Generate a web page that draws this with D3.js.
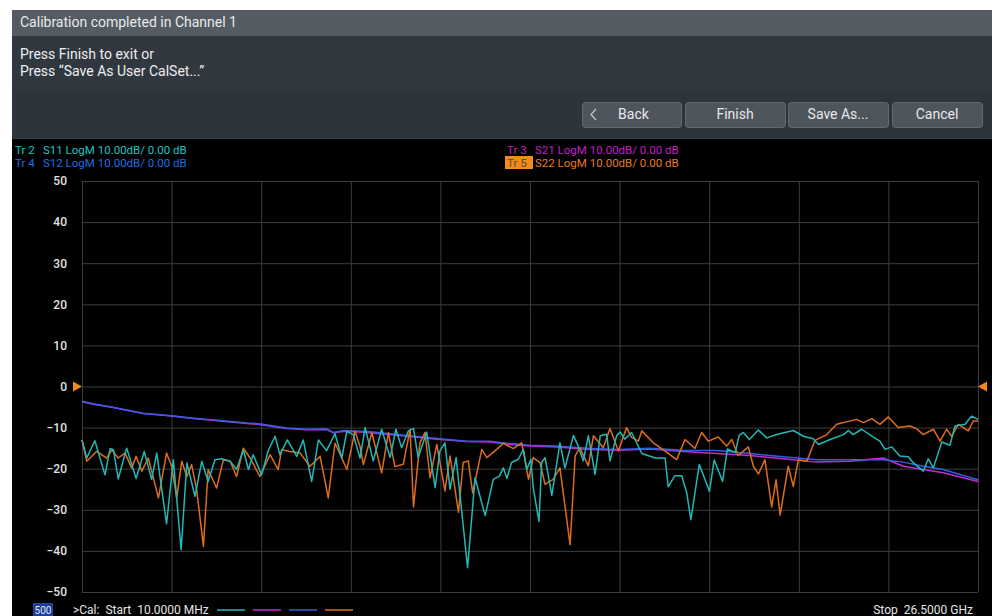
<!DOCTYPE html>
<html><head><meta charset="utf-8">
<script src="https://cdn.jsdelivr.net/npm/d3@7"></script>
<style>
body{margin:0;background:#fff;}
svg{display:block;font-family:Roboto,"Noto Sans",sans-serif;}
</style>
</head><body>
<svg id="c" width="992" height="616"></svg>
<script>
// ---------- data ----------
const yTicks = [50, 40, 30, 20, 10, 0, -10, -20, -30, -40, -50];
const startGHz = 0.01, stopGHz = 26.5, xDivisions = 10;

const s11Freq = [0.01,0.15,0.39,0.69,0.84,0.94,1.08,1.33,1.61,1.85,2.07,2.22,2.51,2.71,2.94,3.11,3.35,3.55,3.74,3.94,4.14,4.39,4.58,4.78,4.93,5.07,5.32,5.52,5.72,5.86,6.08,6.36,6.55,6.80,7.00,7.24,7.49,7.69,7.84,8.03,8.23,8.38,8.62,8.87,9.12,9.29,9.46,9.66,9.81,9.95,10.20,10.45,10.59,10.74,10.89,11.07,11.41,11.63,11.93,12.17,12.35,12.47,12.57,12.71,12.91,13.06,13.16,13.28,13.35,13.52,13.60,13.70,13.90,14.14,14.29,14.54,14.68,14.83,14.98,15.18,15.33,15.52,15.62,15.82,15.92,16.06,16.26,16.56,16.85,16.95,17.25,17.34,17.54,17.74,17.89,18.01,18.26,18.56,18.70,18.95,19.09,19.32,19.44,19.56,19.74,20.01,20.25,20.55,21.04,21.34,21.63,21.78,22.13,22.52,22.67,22.81,23.06,23.36,23.60,23.75,23.95,24.19,24.44,24.59,24.88,25.03,25.18,25.43,25.67,25.82,26.12,26.31,26.50];
const s11dB = [-13,-17.4,-13.2,-21.5,-15.1,-15.4,-22.5,-15,-22.4,-15.8,-22.6,-16.2,-33.4,-17.8,-39.7,-18.6,-26.7,-18.2,-23.1,-17.8,-17.6,-18.2,-20.2,-15.4,-20.2,-16.6,-21.5,-15.5,-12.1,-16.6,-13,-17,-13,-23.1,-13,-15.6,-11.5,-17.4,-10.9,-11.7,-17.4,-10,-18.1,-10.4,-17.3,-10.4,-14.9,-10.8,-10.2,-17.3,-11.1,-24.6,-15.7,-13.7,-25,-17.3,-44.1,-22.2,-31.4,-22.6,-21.8,-19.8,-22.4,-18.5,-17.7,-15.3,-20.2,-17.7,-24.6,-32.8,-18.5,-17.3,-26.5,-13.7,-19.8,-11.9,-14.5,-18.1,-12,-21.4,-12,-11.6,-18.1,-11.9,-11.1,-12.8,-11.2,-16.3,-17.1,-17.4,-17.4,-24.4,-21.7,-21.7,-25.9,-32.4,-19,-25.5,-17.9,-23.1,-15.2,-16.1,-11.9,-11.2,-12.9,-10.6,-12.5,-11.7,-10.7,-12.1,-12.7,-14.1,-12.9,-11.7,-10.7,-11.7,-10.4,-12.1,-13.3,-15.3,-14.7,-16.9,-17.1,-18.6,-20.6,-17.6,-19.8,-13.5,-14.3,-9.6,-9.2,-7.2,-8];

const s22Freq = [0.01,0.15,0.44,0.74,0.89,1.08,1.28,1.48,1.61,1.78,1.97,2.27,2.51,2.66,2.81,2.96,3.11,3.25,3.40,3.60,3.74,3.99,4.19,4.39,4.58,4.78,4.98,5.27,5.57,5.81,5.91,6.16,6.46,6.75,7.05,7.29,7.49,7.69,7.84,8.08,8.23,8.33,8.58,8.87,9.07,9.26,9.51,9.71,9.81,10.00,10.15,10.30,10.50,10.74,10.89,11.14,11.28,11.43,11.56,11.83,11.98,12.27,12.47,12.76,13.01,13.21,13.35,13.55,13.70,13.94,14.14,14.44,14.59,14.73,14.98,15.13,15.42,15.62,15.87,16.11,16.26,16.46,16.56,16.90,17.25,17.59,17.84,18.13,18.33,18.53,18.82,19.07,19.22,19.41,19.71,19.86,20.01,20.20,20.40,20.53,20.65,20.89,21.04,21.19,21.44,21.68,22.03,22.32,22.91,23.11,23.36,23.60,23.85,24.14,24.49,24.69,24.88,25.18,25.38,25.57,25.72,25.92,26.21,26.36,26.50];
const s22dB = [-13,-18.2,-15.8,-17.4,-15.4,-17.4,-16.2,-19.8,-17,-20.6,-17.4,-27.1,-16.2,-19.4,-27.1,-18.2,-21.9,-19,-25.1,-38.9,-20.2,-24.7,-17.8,-18.2,-21.9,-15,-17.4,-21.9,-16.6,-20.2,-15.4,-15.8,-16.2,-19.4,-17,-27.1,-13.8,-17.4,-20.2,-10.9,-14.6,-19,-11.2,-21,-11.2,-19.5,-18.9,-10.4,-29.3,-13.7,-11.2,-22.2,-14.1,-25.4,-16.9,-30.6,-18.5,-18.1,-25.9,-15.3,-17.3,-15.3,-13.8,-15.1,-13.7,-22.6,-17.3,-18.5,-23.8,-22.6,-19.8,-38.5,-16.9,-14.9,-19.3,-12,-14.9,-10.2,-15.7,-10,-12.4,-13.3,-10.8,-13.7,-15.7,-17.8,-12.9,-15.1,-11.2,-13.3,-12.3,-14.5,-12.9,-16.8,-14.7,-19.4,-21.3,-17.8,-29.3,-22.7,-31.3,-19.4,-24.3,-17.8,-18.2,-13.1,-11.7,-9.2,-8,-8.8,-7.8,-9.2,-7.4,-10,-9.6,-10.3,-11.7,-10.4,-13.3,-10.4,-12.1,-9.2,-10.8,-8.4,-8.4];

const s12Freq = [0.01,0.34,0.84,1.33,1.82,2.66,3.30,4.09,4.88,5.30,6.06,6.65,7.24,7.44,7.74,8.23,8.62,9.61,10.59,11.38,12.07,12.57,13.25,14.04,15.03,15.90,16.80,17.79,18.78,19.76,20.74,21.73,22.72,23.70,24.29,24.88,25.47,25.97,26.50];
const s12dB = [-3.6,-4.2,-4.9,-5.7,-6.5,-7.1,-7.7,-8.3,-8.9,-9.1,-10.1,-10.4,-10.3,-11.2,-10.7,-10.9,-11.1,-11.9,-12.7,-13.3,-13.3,-13.8,-14.3,-14.5,-15.1,-15.3,-15.0,-15.5,-15.6,-16.3,-17.1,-17.8,-17.8,-17.8,-18.4,-19.4,-20.2,-21.4,-22.7];
const s21Freq = s12Freq;
const s21dB = [-3.7,-4.3,-5.0,-5.8,-6.6,-7.2,-7.8,-8.4,-9.0,-9.3,-10.2,-10.5,-10.5,-11.3,-10.9,-11.1,-11.3,-12.1,-12.9,-13.4,-13.5,-14.0,-14.5,-14.7,-15.3,-15.5,-15.2,-15.8,-16.3,-16.8,-17.6,-18.4,-18.2,-17.4,-19.4,-20.2,-21.0,-22.0,-23.1];

const traces = [
  {tr:"Tr 2", name:"S11 LogM 10.00dB/ 0.00 dB", color:"#22b8b6", text:"#1ec3c3", freq:s11Freq, db:s11dB},
  {tr:"Tr 3", name:"S21 LogM 10.00dB/ 0.00 dB", color:"#c22ccf", text:"#c31fc6", freq:s21Freq, db:s21dB},
  {tr:"Tr 4", name:"S12 LogM 10.00dB/ 0.00 dB", color:"#3060e2", text:"#1b6fe0", freq:s12Freq, db:s12dB},
  {tr:"Tr 5", name:"S22 LogM 10.00dB/ 0.00 dB", color:"#dd6d1c", text:"#e27a22", freq:s22Freq, db:s22dB}
];
const buttons = ["Back", "Finish", "Save As...", "Cancel"];

// ---------- layout ----------
const svg = d3.select("#c");
const L = 82, R = 978, T = 181, B = 592;

// dialog
svg.append("rect").attr("x",12).attr("y",10).attr("width",980).attr("height",26).attr("fill","#545b62");
svg.append("rect").attr("x",12).attr("y",36).attr("width",980).attr("height",54).attr("fill","#31373e");
svg.append("rect").attr("x",12).attr("y",90).attr("width",980).attr("height",48).attr("fill","#2e343b");
svg.append("text").attr("x",20).attr("y",27).attr("fill","#e8eaec").attr("font-size",14).text("Calibration completed in Channel 1");
svg.append("text").attr("x",20).attr("y",59).attr("fill","#eceef0").attr("font-size",14).text("Press Finish to exit or");
svg.append("text").attr("x",20).attr("y",76).attr("fill","#eceef0").attr("font-size",14).text("Press \u201cSave As User CalSet...\u201d");

const bx = [582, 685, 788, 892], bw = [99, 100, 100, 90];
buttons.forEach((b,i)=>{
  svg.append("rect").attr("x",bx[i]+0.5).attr("y",102.5).attr("width",bw[i]).attr("height",25).attr("rx",3)
    .attr("fill","#4e555c").attr("stroke","#626970");
  svg.append("text").attr("x",bx[i]+bw[i]/2 + (i===0?2:0)).attr("y",119).attr("text-anchor","middle")
    .attr("fill","#e6e8ea").attr("font-size",14).text(b);
});
svg.append("path").attr("d","M596,109 L591,114.5 L596,120").attr("fill","none").attr("stroke","#c8ccd0").attr("stroke-width",1.2);

// chart background
svg.append("rect").attr("x",12).attr("y",138).attr("width",980).attr("height",1).attr("fill","#3a3f45");
svg.append("rect").attr("x",12).attr("y",139).attr("width",980).attr("height",477).attr("fill","#000");

// scales
const x = d3.scaleLinear().domain([startGHz, stopGHz]).range([L, R]);
const y = d3.scaleLinear().domain([-50, 50]).range([B, T]);
const xGrid = d3.range(xDivisions + 1).map(i => startGHz + i * (stopGHz - startGHz) / xDivisions);

// grid
const gx = svg.append("g").attr("transform",`translate(0,${B})`)
  .call(d3.axisBottom(x).tickValues(xGrid).tickSize(-(B-T)).tickFormat(""));
gx.select(".domain").remove();
gx.selectAll("line").attr("stroke","#3d3d3d").attr("stroke-width",1);
const gy = svg.append("g").attr("transform",`translate(${L},0)`)
  .call(d3.axisLeft(y).tickValues(yTicks).tickSize(-(R-L)).tickFormat(""));
gy.select(".domain").remove();
gy.selectAll("line").attr("stroke","#3d3d3d").attr("stroke-width",1);

// y labels
const ly = svg.append("g").attr("transform",`translate(${L},0)`)
  .call(d3.axisLeft(y).tickValues(yTicks).tickSize(0).tickPadding(15).tickFormat(d3.format("d")));
ly.select(".domain").remove();
ly.selectAll("text").attr("fill","#e2e2e2").attr("font-size",12).attr("font-weight",500)
  .attr("font-family","Roboto, sans-serif");

// reference markers at 0 dB
svg.append("path").attr("d",`M73,${y(0)-5} L82,${y(0)} L73,${y(0)+5} Z`).attr("fill","#f08a1c");
svg.append("path").attr("d",`M987,${y(0)-5} L978,${y(0)} L987,${y(0)+5} Z`).attr("fill","#f08a1c");

// traces (magenta under blue, noisy traces on top)
const line = d3.line().x(d=>x(d[0])).y(d=>y(d[1]));
const order = [1,2,3,0];
order.forEach(i=>{
  const t = traces[i];
  svg.append("path").datum(t.freq.map((f,k)=>[f, t.db[k]]))
    .attr("d", line).attr("fill","none").attr("stroke", t.color).attr("stroke-width",1.5)
    .attr("stroke-linejoin","round");
});

// legends
const legPos = [[15,154],[507,154],[15,167],[507,167]];
traces.forEach((t,i)=>{
  const [lx,lyy] = legPos[i];
  if (t.tr === "Tr 5") {
    svg.append("rect").attr("x",lx-2).attr("y",lyy-11).attr("width",28).attr("height",13).attr("fill","#f28a1e");
    svg.append("text").attr("x",lx).attr("y",lyy).attr("fill","#5b4a3a").attr("font-size",11.5).text(t.tr);
  } else {
    svg.append("text").attr("x",lx).attr("y",lyy).attr("fill",t.text).attr("font-size",11.5).text(t.tr);
  }
  svg.append("text").attr("x",lx+28).attr("y",lyy).attr("fill",t.text).attr("font-size",11.5).text(t.name);
});

// bottom status
svg.append("rect").attr("x",33).attr("y",603).attr("width",20).attr("height",13).attr("fill","#1d3f95");
svg.append("text").attr("x",43).attr("y",614).attr("text-anchor","middle").attr("fill","#dfe6f0").attr("font-size",10).text("500");
svg.append("text").attr("x",73).attr("y",614).attr("fill","#e6e6e6").attr("font-size",12).attr("xml:space","preserve").text(">Cal:  Start  10.0000 MHz");
const segX = [217, 253, 289, 325];
traces.forEach((t,i)=>{
  svg.append("line").attr("x1",segX[i]).attr("x2",segX[i]+28).attr("y1",610).attr("y2",610)
    .attr("stroke",t.color).attr("stroke-width",1.5);
});
svg.append("text").attr("x",973).attr("y",614).attr("text-anchor","end").attr("fill","#e6e6e6").attr("font-size",12).attr("xml:space","preserve").text("Stop  26.5000 GHz");
</script>
</body></html>
